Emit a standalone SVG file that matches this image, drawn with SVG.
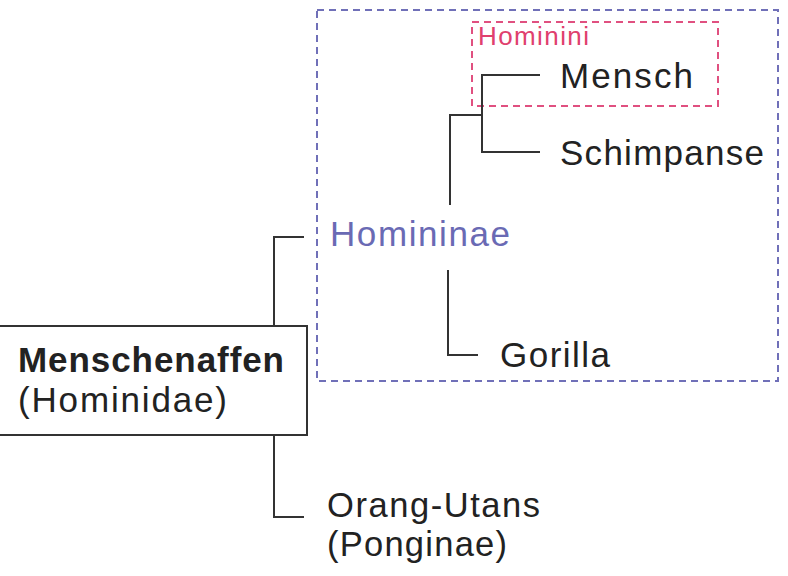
<svg xmlns="http://www.w3.org/2000/svg" width="788" height="576" viewBox="0 0 788 576">
<style>
.t{font-family:"Liberation Sans",Arial,sans-serif;fill:#222;font-size:35px}
.b{font-weight:bold}
.ln{fill:none;stroke:#333;stroke-width:2}
</style>
<rect width="788" height="576" fill="#fff"/>
<g id="homininae-box">
<rect x="317" y="10" width="461" height="371" fill="none" stroke="#7070b8" stroke-width="2" stroke-dasharray="7,5"/>
<text class="t" x="330" y="246" textLength="180" style="fill:#6a6ab4">Homininae</text>
</g>
<g id="hominini-box">
<rect x="472" y="22" width="246" height="84" fill="none" stroke="#e05080" stroke-width="2" stroke-dasharray="7,5"/>
<text class="t" x="478" y="45" textLength="111" style="fill:#e0406e;font-size:26px">Hominini</text>
</g>
<g id="connectors">
<path class="ln" d="M304,237 H274 V326 M274,435 V517 H304"/>
<path class="ln" d="M540,75 H482 V152 H540 M482,115 H450 V205"/>
<path class="ln" d="M448,270 V355 H478"/>
</g>
<g id="hominidae">
<rect x="-2" y="326" width="309" height="109" fill="#fff" stroke="#333" stroke-width="2"/>
<text class="t b" x="18" y="372" textLength="266">Menschenaffen</text>
<text class="t" x="18" y="412" textLength="209">(Hominidae)</text>
</g>
<g id="mensch"><text class="t" x="560" y="88" textLength="133">Mensch</text></g>
<g id="schimpanse"><text class="t" x="560" y="165" textLength="204">Schimpanse</text></g>
<g id="gorilla"><text class="t" x="500" y="367" textLength="110">Gorilla</text></g>
<g id="orang">
<text class="t" x="327" y="517" textLength="213" style="font-size:34.5px">Orang-Utans</text>
<text class="t" x="327" y="556" textLength="180" style="font-size:34.5px">(Ponginae)</text>
</g>
</svg>
